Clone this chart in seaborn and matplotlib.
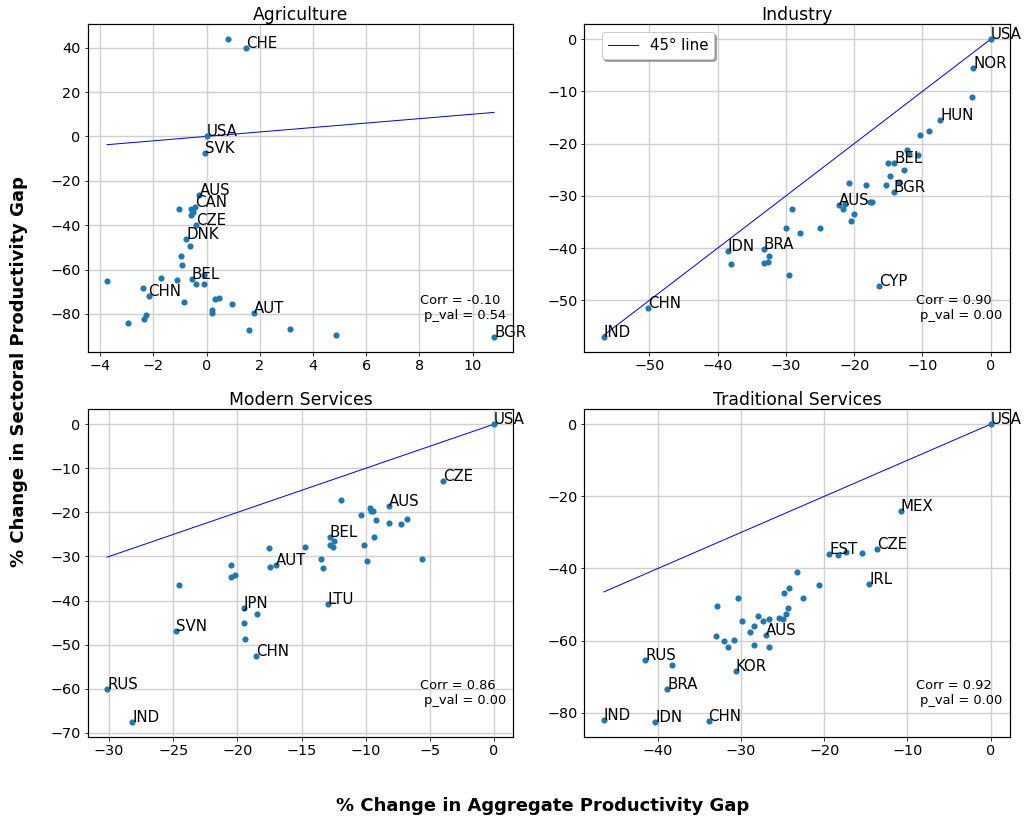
import matplotlib
matplotlib.use('Agg')
import matplotlib.pyplot as plt
import pandas as pd
import seaborn as sns

plt.rcParams.update({'font.family': 'DejaVu Sans', 'font.size': 14.4,
                     'axes.linewidth': 1.2, 'grid.color': '#d0d0d0',
                     'grid.linewidth': 1.4})

# Values ('' = point without a country label)
agri_x = [0.80, 1.49, 0.0, -0.07, -0.27, -1.04, -0.58, -0.44, -0.59, -0.52,
          -0.39, -0.77, -0.63, -0.95, -0.92, -3.74, -2.38, -2.18, -1.73, -1.13,
          -0.55, -0.39, -0.10, -0.08, -0.84, -2.97, -2.36, -2.27, 0.20, 0.22,
          0.30, 0.46, 0.97, 1.78, 1.60, 3.12, 4.85, 10.80]
agri_y = [43.8, 39.7, 0.0, -7.4, -26.4, -32.5, -32.8, -31.9, -35.4, -34.0,
          -39.7, -46.3, -49.6, -53.8, -58.0, -65.1, -68.3, -72.0, -63.9, -64.8,
          -64.4, -66.6, -66.5, -62.6, -74.4, -83.9, -82.2, -80.7, -78.0, -79.8,
          -73.1, -72.8, -75.5, -79.5, -87.2, -86.7, -89.6, -90.3]
agri_lab = ['', 'CHE', 'USA', 'SVK', 'AUS', '', '', 'CAN', '', '',
            'CZE', 'DNK', '', '', '', '', '', 'CHN', '', '',
            'BEL', '', '', '', '', '', '', '', '', '',
            '', '', '', 'AUT', '', '', '', 'BGR']

ind_x = [0.0, -2.54, -2.78, -7.37, -9.08, -10.40, -12.3, -12.0, -10.6, -15.1,
         -14.1, -12.7, -14.8, -13.5, -15.3, -14.2, -20.8, -18.2, -17.4, -17.7,
         -22.3, -21.3, -21.7, -20.0, -20.5, -29.05, -25.0, -30.0, -28.0, -38.5,
         -38.0, -33.25, -32.5, -32.6, -33.2, -29.6, -16.3, -50.2, -56.7]
ind_y = [0.0, -5.6, -11.0, -15.5, -17.5, -18.3, -21.3, -22.0, -22.2, -23.8,
         -23.7, -25.1, -26.2, -27.3, -28.0, -29.2, -27.6, -28.0, -31.2, -31.2,
         -31.7, -31.5, -32.6, -33.5, -34.8, -32.6, -36.1, -36.1, -37.2, -40.5,
         -43.1, -40.1, -41.5, -42.6, -42.8, -45.2, -47.2, -51.5, -57.0]
ind_lab = ['USA', 'NOR', '', 'HUN', '', '', '', '', '', '',
           'BEL', '', '', '', '', 'BGR', '', '', '', '',
           'AUS', '', '', '', '', '', '', '', '', 'IDN',
           '', 'BRA', '', '', '', '', 'CYP', 'CHN', 'IND']

mod_x = [0.0, -3.95, -8.16, -11.93, -10.37, -9.67, -9.62, -9.44, -9.2, -8.19,
         -7.28, -6.79, -9.33, -10.1, -9.93, -5.59, -12.82, -12.48, -12.82, -12.53,
         -14.77, -13.47, -13.36, -17.55, -17.44, -17.0, -20.49, -20.49, -20.17, -24.54,
         -19.5, -18.51, -19.47, -19.39, -18.54, -12.95, -24.8, -30.16, -28.18]
mod_y = [0.0, -12.9, -18.6, -17.2, -20.6, -19.0, -19.6, -19.8, -21.7, -22.3,
         -22.6, -21.6, -25.7, -27.5, -31.1, -30.5, -25.6, -26.5, -27.3, -27.9,
         -27.9, -30.5, -32.7, -28.0, -32.4, -32.0, -32.0, -34.7, -34.2, -36.4,
         -41.6, -43.0, -45.0, -48.7, -52.5, -40.7, -46.8, -60.1, -67.5]
mod_lab = ['USA', 'CZE', 'AUS', '', '', '', '', '', '', '',
           '', '', '', '', '', '', 'BEL', '', '', '',
           '', '', '', '', '', 'AUT', '', '', '', '',
           'JPN', '', '', '', 'CHN', 'LTU', 'SVN', 'RUS', 'IND']

trad_x = [0.0, -10.83, -13.68, -15.45, -19.38, -18.33, -17.33, -14.6, -23.3, -20.6,
          -24.2, -24.9, -22.6, -30.4, -32.9, -24.4, -24.6, -25.5, -25.0, -26.7,
          -28.0, -27.4, -29.85, -28.5, -28.9, -27.0, -33.0, -32.0, -30.9, -31.6,
          -28.4, -26.6, -30.65, -41.5, -38.3, -38.9, -46.5, -40.3, -33.9]
trad_y = [0.0, -24.1, -34.5, -35.6, -36.1, -36.3, -35.3, -44.4, -41.1, -44.6,
          -45.5, -46.8, -48.3, -48.3, -50.3, -51.0, -52.6, -53.7, -54.0, -53.9,
          -53.1, -54.6, -54.6, -56.0, -57.6, -58.4, -58.7, -60.0, -59.9, -61.8,
          -61.2, -61.7, -68.5, -65.5, -66.8, -73.3, -81.9, -82.5, -82.3]
trad_lab = ['USA', 'MEX', 'CZE', '', 'EST', '', '', 'IRL', '', '',
            '', '', '', '', '', '', '', '', '', '',
            '', '', '', '', '', 'AUS', '', '', '', '',
            '', '', 'KOR', 'RUS', '', 'BRA', 'IND', 'IDN', 'CHN']

sectors = ['Agriculture', 'Industry', 'Modern Services', 'Traditional Services']
corr = ['-0.10', '0.90', '0.86', '0.92']
p_val = ['0.54', '0.00', '0.00', '0.00']

frames = []
for name, xs, ys, labs in zip(sectors, [agri_x, ind_x, mod_x, trad_x],
                              [agri_y, ind_y, mod_y, trad_y],
                              [agri_lab, ind_lab, mod_lab, trad_lab]):
    frames.append(pd.DataFrame({'sector': name, 'agg': xs, 'sec': ys, 'country': labs}))
data = pd.concat(frames, ignore_index=True)

fig, axes = plt.subplots(2, 2, figsize=(1025 / 72, 821 / 72), dpi=72)
fig.subplots_adjust(left=0.0856, right=0.9854, top=0.9704, bottom=0.1027,
                    wspace=0.167, hspace=0.176)

for ax, name, c, p in zip(axes.flat, sectors, corr, p_val):
    d = data[data['sector'] == name]
    ax.grid(True, zorder=0)
    ax.set_axisbelow(True)
    sns.scatterplot(data=d, x='agg', y='sec', ax=ax, s=38, linewidth=0,
                    color='#1f77b4', zorder=3)
    # 45 degree line over the range of the data
    xr = [d['agg'].min(), d['agg'].max()]
    ax.plot(xr, xr, color='blue', lw=1, label='45° line', zorder=2)
    for _, row in d.iterrows():
        if row['country']:
            ax.annotate(row['country'], (row['agg'], row['sec']), fontsize=15)
    ax.text(0.78, 0.1, f'Corr = {c}\n p_val = {p}', transform=ax.transAxes,
            fontsize=13)
    ax.set_title(name, fontsize=17.3, pad=4)
    ax.set_xlabel('')
    ax.set_ylabel('')
    ax.tick_params(labelsize=14.4)

axes[0, 1].legend(loc='upper left', bbox_to_anchor=(0.041, 0.9756),
                  borderaxespad=0, shadow=True, fontsize=15)

fig.text(0.529, 0.018, '% Change in Aggregate Productivity Gap', ha='center',
         va='center', fontsize=18, fontweight='bold')
fig.text(0.019, 0.547, '% Change in Sectoral Productivity Gap', ha='center',
         va='center', rotation=90, fontsize=18, fontweight='bold')

fig.savefig('out.png', dpi=72)
